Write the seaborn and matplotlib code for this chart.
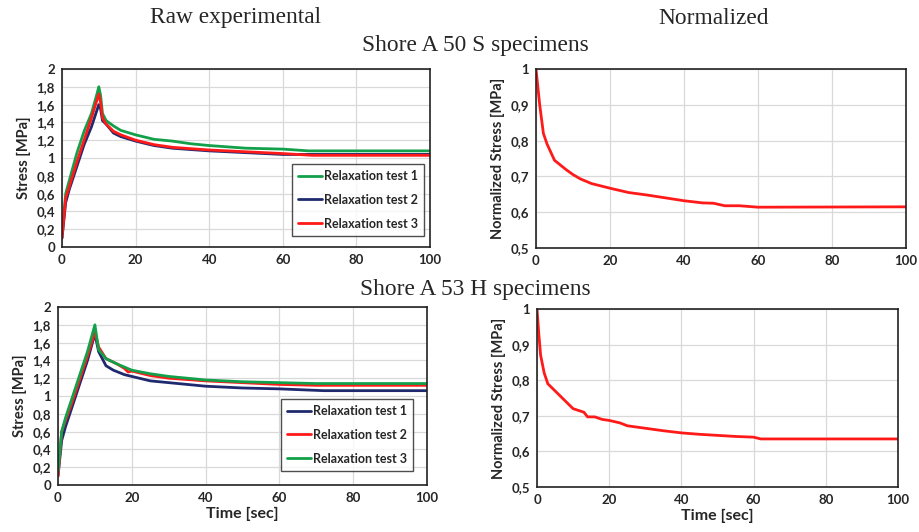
import matplotlib
matplotlib.use("Agg")
import matplotlib.pyplot as plt
import seaborn as sns

# time [sec] / stress [MPa]
t50_1 = [0, 1, 2, 4, 6, 8, 9.5, 10, 10.5, 11, 12, 14, 16, 20, 25, 30, 35, 40, 50, 60, 67, 100]
s50_1 = [0.15, 0.6, 0.75, 1.05, 1.3, 1.5, 1.72, 1.8, 1.7, 1.5, 1.42, 1.36, 1.31, 1.26, 1.21, 1.19, 1.16, 1.14, 1.11, 1.10, 1.08, 1.08]
t50_2 = [0, 1, 2, 4, 6, 8, 10, 10.5, 11, 12, 14, 16, 20, 25, 30, 40, 50, 60, 100]
s50_2 = [0.1, 0.5, 0.65, 0.9, 1.15, 1.35, 1.6, 1.55, 1.42, 1.38, 1.28, 1.24, 1.19, 1.14, 1.11, 1.08, 1.06, 1.04, 1.04]
t50_3 = [0, 1, 2, 4, 6, 8, 10, 10.5, 11, 12, 14, 16, 20, 25, 30, 40, 50, 60, 68, 100]
s50_3 = [0.1, 0.55, 0.68, 0.95, 1.2, 1.45, 1.72, 1.62, 1.45, 1.38, 1.3, 1.26, 1.2, 1.15, 1.12, 1.09, 1.07, 1.05, 1.03, 1.03]

t53_1 = [0, 1, 2, 4, 6, 8, 10, 11, 12, 13, 15, 18, 20, 25, 30, 35, 40, 50, 60, 72, 100]
s53_1 = [0.1, 0.5, 0.65, 0.9, 1.15, 1.4, 1.7, 1.5, 1.42, 1.34, 1.29, 1.24, 1.22, 1.17, 1.15, 1.13, 1.11, 1.09, 1.08, 1.06, 1.06]
t53_2 = [0, 1, 2, 4, 6, 8, 10, 11, 13, 16, 18, 19, 20, 25, 30, 40, 50, 60, 70, 100]
s53_2 = [0.1, 0.6, 0.72, 0.95, 1.2, 1.45, 1.72, 1.55, 1.42, 1.36, 1.31, 1.27, 1.28, 1.23, 1.2, 1.17, 1.15, 1.13, 1.12, 1.12]
t53_3 = [0, 1, 2, 4, 6, 8, 10, 11, 13, 16, 20, 25, 30, 40, 50, 60, 70, 100]
s53_3 = [0.15, 0.6, 0.75, 1.0, 1.25, 1.5, 1.8, 1.52, 1.42, 1.36, 1.29, 1.25, 1.22, 1.18, 1.16, 1.15, 1.14, 1.14]

# normalized curves
tn50 = [0, 0.5, 1, 2, 3, 5, 8, 10, 12, 15, 20, 25, 30, 35, 40, 45, 48, 51, 55, 60, 100]
sn50 = [1.0, 0.95, 0.9, 0.82, 0.79, 0.745, 0.72, 0.705, 0.693, 0.68, 0.667, 0.655, 0.648, 0.64, 0.632, 0.626, 0.625, 0.618, 0.618, 0.614, 0.615]
tn53 = [0, 0.5, 1, 2, 3, 5, 8, 10, 13, 14, 16, 18, 20, 23, 25, 30, 35, 40, 45, 50, 55, 60, 62, 100]
sn53 = [1.0, 0.93, 0.87, 0.82, 0.79, 0.77, 0.74, 0.72, 0.71, 0.697, 0.697, 0.69, 0.687, 0.68, 0.672, 0.665, 0.658, 0.652, 0.648, 0.645, 0.642, 0.64, 0.635, 0.635]

x_ticks = [0, 20, 40, 60, 80, 100]
raw_ticks = [0, 0.2, 0.4, 0.6, 0.8, 1, 1.2, 1.4, 1.6, 1.8, 2]
raw_labels = ['0', '0,2', '0,4', '0,6', '0,8', '1', '1,2', '1,4', '1,6', '1,8', '2']
norm_ticks = [0.5, 0.6, 0.7, 0.8, 0.9, 1]
norm_labels = ['0,5', '0,6', '0,7', '0,8', '0,9', '1']

GREEN = '#12a04a'
NAVY = '#1f2a6e'
RED = '#ff1a1a'

sns.set_style('white')
plt.rcParams['font.family'] = ['Lato', 'DejaVu Sans']

fig = plt.figure(figsize=(9.19, 5.32), dpi=100)
W, H = 919, 532


def make_ax(x0, x1, y0, y1):
    return fig.add_axes([x0 / W, 1 - y1 / H, (x1 - x0) / W, (y1 - y0) / H])


def style(ax, yt, yl, ylim, ylabel, xlabel=None):
    ax.set_xlim(0, 100)
    ax.set_ylim(*ylim)
    ax.set_xticks(x_ticks)
    ax.set_xticklabels([str(v) for v in x_ticks], fontweight='bold', fontsize=9.5)
    ax.set_yticks(yt)
    ax.set_yticklabels(yl, fontweight='bold', fontsize=9.5)
    ax.grid(True, color='#d9d9d9', linewidth=0.9)
    ax.set_axisbelow(True)
    for sp in ax.spines.values():
        sp.set_color('#222222')
        sp.set_linewidth(1.2)
    ax.tick_params(length=0, pad=5)
    ax.set_ylabel(ylabel, fontweight='bold', fontsize=10.5, labelpad=4)
    if xlabel:
        ax.set_xlabel(xlabel, fontweight='bold', fontsize=11.5, labelpad=2)
    else:
        ax.set_xlabel('')


def legend(ax, loc):
    leg = ax.legend(loc='lower left', bbox_to_anchor=loc, frameon=True, fancybox=False,
                    edgecolor='#222222', handlelength=1.9, handletextpad=0.15,
                    labelspacing=0.95, borderpad=0.5, borderaxespad=0,
                    prop={'weight': 'bold', 'size': 9})
    leg.get_frame().set_linewidth(1.0)


ax1 = make_ax(62, 430, 69, 247)
sns.lineplot(x=t50_1, y=s50_1, color=GREEN, lw=2, label='Relaxation test 1', ax=ax1, sort=False)
sns.lineplot(x=t50_2, y=s50_2, color=NAVY, lw=2, label='Relaxation test 2', ax=ax1, sort=False)
sns.lineplot(x=t50_3, y=s50_3, color=RED, lw=2, label='Relaxation test 3', ax=ax1, sort=False)
style(ax1, raw_ticks, raw_labels, (0, 2), 'Stress [MPa]')
legend(ax1, (0.624, 0.062))

ax2 = make_ax(536, 906, 69, 248)
sns.lineplot(x=tn50, y=sn50, color=RED, lw=2, ax=ax2, sort=False)
style(ax2, norm_ticks, norm_labels, (0.5, 1), 'Normalized Stress [MPa]')

ax3 = make_ax(58, 427, 307, 485)
sns.lineplot(x=t53_1, y=s53_1, color=NAVY, lw=2, label='Relaxation test 1', ax=ax3, sort=False)
sns.lineplot(x=t53_2, y=s53_2, color=RED, lw=2, label='Relaxation test 2', ax=ax3, sort=False)
sns.lineplot(x=t53_3, y=s53_3, color=GREEN, lw=2, label='Relaxation test 3', ax=ax3, sort=False)
style(ax3, raw_ticks, raw_labels, (0, 2), 'Stress [MPa]', 'Time [sec]')
legend(ax3, (0.604, 0.079))

ax4 = make_ax(537, 898, 309, 487)
sns.lineplot(x=tn53, y=sn53, color=RED, lw=2, ax=ax4, sort=False)
style(ax4, norm_ticks, norm_labels, (0.5, 1), 'Normalized Stress [MPa]', 'Time [sec]')

serif = ['Liberation Serif', 'DejaVu Serif']
fig.text(236 / W, 1 - 18 / H, 'Raw experimental', family=serif, fontsize=16.8, ha='center', va='center')
fig.text(714 / W, 1 - 18 / H, 'Normalized', family=serif, fontsize=16.8, ha='center', va='center')
fig.text(475 / W, 1 - 46 / H, 'Shore A 50 S specimens', family=serif, fontsize=16.8, ha='center', va='center')
fig.text(475 / W, 1 - 289 / H, 'Shore A 53 H specimens', family=serif, fontsize=16.8, ha='center', va='center')

fig.savefig('out.png', dpi=100, facecolor='white')
